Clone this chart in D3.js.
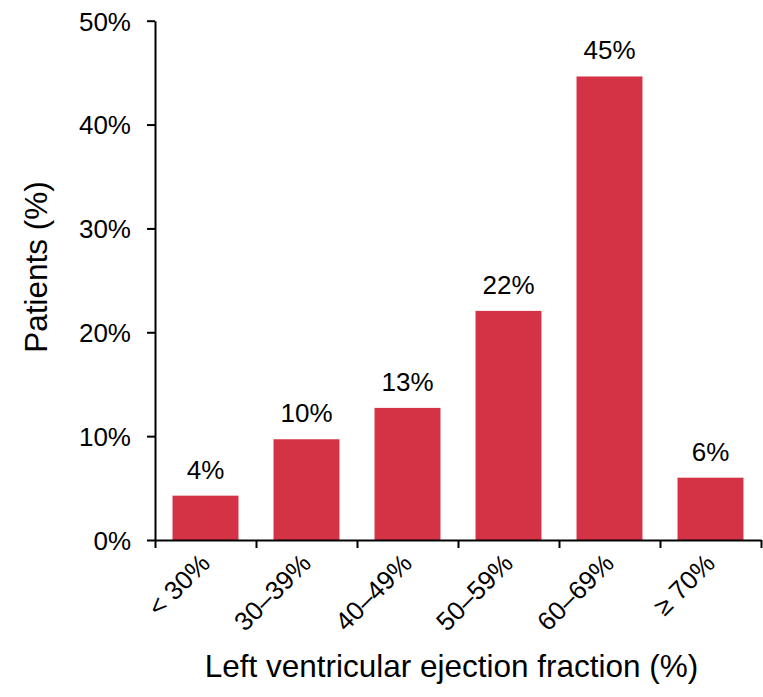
<!DOCTYPE html>
<html>
<head>
<meta charset="utf-8">
<script src="https://cdn.jsdelivr.net/npm/d3@7"></script>
<style>
  html, body { margin: 0; padding: 0; background: #fff; }
  svg { display: block; font-family: "Liberation Sans", Arial, sans-serif; }
</style>
</head>
<body>
<svg id="chart" width="763" height="697"></svg>
<script>
// Data
const categories = ["< 30%", "30–39%", "40–49%", "50–59%", "60–69%", "≥ 70%"];
const values = [0.0427, 0.097, 0.1272, 0.2206, 0.4463, 0.060];
const valueLabels = ["4%", "10%", "13%", "22%", "45%", "6%"];
const yTicks = [0, 0.1, 0.2, 0.3, 0.4, 0.5];
const xTitle = "Left ventricular ejection fraction (%)";
const yTitle = "Patients (%)";

(function () {
const svg = d3.select("#chart");
const mLeft = 155, mRight = 761, mTop = 20.7, mBottom = 540;
const barColor = "#d43346";

const x = d3.scaleBand().domain(categories).range([mLeft, mRight])
  .paddingInner(0.347).paddingOuter(0.1735);
const xEdges = d3.scaleLinear().domain([0, categories.length]).range([mLeft, mRight]);
const y = d3.scaleLinear().domain([0, 0.5]).range([mBottom, mTop]);

// Bars
svg.append("g").selectAll("rect").data(values).join("rect")
  .attr("x", (d, i) => x(categories[i]))
  .attr("y", d => y(d))
  .attr("width", x.bandwidth())
  .attr("height", d => y(0) - y(d))
  .attr("fill", barColor);

// Value labels
svg.append("g").selectAll("text").data(values).join("text")
  .attr("x", (d, i) => x(categories[i]) + x.bandwidth() / 2)
  .attr("y", d => y(d) - 17)
  .attr("text-anchor", "middle")
  .attr("font-size", 26)
  .attr("fill", "#000")
  .text((d, i) => valueLabels[i]);

// Y axis
const yAxis = svg.append("g").attr("transform", `translate(${mLeft},0)`)
  .call(d3.axisLeft(y).tickValues(yTicks).tickFormat(d3.format(".0%"))
    .tickSize(8).tickSizeOuter(0).tickPadding(16));
yAxis.select(".domain").attr("stroke", "#000").attr("stroke-width", 2);
yAxis.selectAll(".tick line").attr("stroke", "#000").attr("stroke-width", 2);
yAxis.selectAll(".tick text").attr("font-size", 26).attr("fill", "#000")
  .attr("font-family", "Liberation Sans, Arial, sans-serif").attr("dy", "0.36em");

// X axis (boundary ticks)
const xAxis = svg.append("g").attr("transform", `translate(0,${mBottom})`)
  .call(d3.axisBottom(xEdges).tickValues(d3.range(categories.length + 1))
    .tickFormat("").tickSize(8).tickSizeOuter(0));
xAxis.select(".domain").attr("stroke", "#000").attr("stroke-width", 2);
xAxis.selectAll(".tick line").attr("stroke", "#000").attr("stroke-width", 2);

// Category labels (rotated)
svg.append("g").selectAll("text").data(categories).join("text")
  .attr("transform", d => `translate(${x(d) + x.bandwidth() / 2 + 6},${565}) rotate(-45)`)
  .attr("text-anchor", "end")
  .attr("font-size", 26)
  .attr("fill", "#000")
  .text(d => d);

// Axis titles
svg.append("text")
  .attr("x", 451.5).attr("y", 676.7)
  .attr("text-anchor", "middle")
  .attr("font-size", 31.5)
  .attr("fill", "#000")
  .text(xTitle);

svg.append("text")
  .attr("transform", `translate(47.3,267) rotate(-90)`)
  .attr("text-anchor", "middle")
  .attr("font-size", 31.5)
  .attr("fill", "#000")
  .text(yTitle);
})();
</script>
</body>
</html>
